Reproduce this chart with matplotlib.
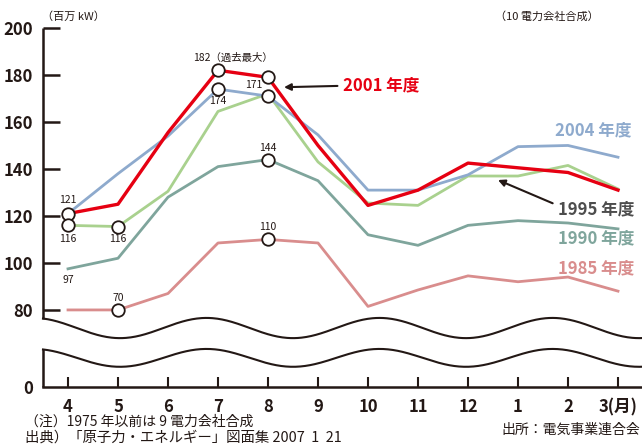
import numpy as np
import matplotlib.pyplot as plt

months = ['4', '5', '6', '7', '8', '9', '10', '11', '12', '1', '2', '3(月)']
y1985 = [80, 80, 87, 108.5, 110, 108.5, 81.5, 88.5, 94.5, 92, 94, 88]
y1990 = [97.5, 102, 128, 141, 144, 135, 112, 107.5, 116, 118, 117, 114.5]
y1995 = [116, 115.5, 130.5, 164.5, 172, 143, 125.5, 124.5, 137, 137, 141.5, 131.5]
y2004 = [121, 138, 154, 174, 171, 154.5, 131, 131, 137.5, 149.5, 150, 145]
y2001 = [121, 125, 155.5, 182, 179, 150, 124.5, 131, 142.5, 140.5, 138.5, 131]

ytick_vals = [80, 100, 120, 140, 160, 180, 200]

INK = '#231815'
JP = ['Noto Sans CJK JP', 'DejaVu Sans']
NUM = ['Liberation Sans Narrow', 'Noto Sans CJK JP', 'DejaVu Sans']

c1985 = '#d98d8d'
c1990 = '#7fa59c'
c1995 = '#a9d18e'
c2004 = '#8eaacd'
c2001 = '#e60012'

# virtual position of the "0" line below the axis break
ZERO = 47.2

fig = plt.figure(figsize=(6.42, 4.45), dpi=100)
ax = fig.add_axes([43 / 642, 1 - 387 / 445, 599 / 642, 359 / 445])
x = np.arange(len(months))

ax.plot(x, y1985, color=c1985, lw=2.0, zorder=3)
ax.plot(x, y1990, color=c1990, lw=2.0, zorder=3)
ax.plot(x, y1995, color=c1995, lw=2.0, zorder=3)
ax.plot(x, y2004, color=c2004, lw=2.0, zorder=4)
ax.plot(x, y2001, color=c2001, lw=2.4, zorder=5)

# open circle markers
marks = [(y2001, 0), (y2001, 3), (y2001, 4), (y2004, 3), (y2004, 4),
         (y1995, 0), (y1995, 1), (y1990, 4), (y1985, 1), (y1985, 4)]
for ser, i in marks:
    ax.plot(x[i], ser[i], 'o', ms=9, mfc='white', mec=INK, mew=1.3, zorder=6)

lab = dict(fontsize=7.5, color=INK, family=JP, ha='center', va='center')
ax.text(0, 126.8, '121', **lab)
ax.text(0, 110.2, '116', **lab)
ax.text(1, 110.2, '116', **lab)
ax.text(0, 92.7, '97', **lab)
ax.text(1, 85.0, '70', **lab)
ax.text(2.5, 187.2, '182（過去最大）', fontsize=7.5, color=INK, family=JP,
        ha='left', va='center')
ax.text(3, 168.8, '174', **lab)
ax.text(3.72, 175.7, '171', **lab)
ax.text(4, 148.9, '144', **lab)
ax.text(4, 115.3, '110', **lab)

# series names
ax.annotate('2001 年度', xy=(4.32, 174.8), xytext=(5.5, 175.4),
            fontsize=12, fontweight='bold', color=c2001, family=JP,
            ha='left', va='center',
            arrowprops=dict(arrowstyle='-|>', color=INK, lw=1.5,
                            mutation_scale=10, shrinkA=2, shrinkB=0,
                            relpos=(0, 0.5)))
ax.annotate('1995 年度', xy=(8.6, 135.3), xytext=(9.8, 122.9),
            fontsize=12, fontweight='bold', color='#4d4d4d', family=JP,
            ha='left', va='center',
            arrowprops=dict(arrowstyle='-|>', color=INK, lw=1.5,
                            mutation_scale=10, shrinkA=2, shrinkB=0,
                            relpos=(0, 0.7)))
ax.text(9.74, 156.6, '2004 年度', fontsize=12, fontweight='bold', color=c2004,
        family=JP, ha='left', va='center')
ax.text(9.8, 110.6, '1990 年度', fontsize=12, fontweight='bold', color=c1990,
        family=JP, ha='left', va='center')
ax.text(9.8, 97.8, '1985 年度', fontsize=12, fontweight='bold', color=c1985,
        family=JP, ha='left', va='center')

# axis break waves
xs = np.linspace(-0.5, 11.5, 500)
phase = np.cos(2 * np.pi * (xs - 1.04) / 3.46)
ax.plot(xs, 72.3 - 4.3 * phase, color=INK, lw=1.5, clip_on=False)
ax.plot(xs, 59.6 - 3.8 * phase, color=INK, lw=1.5, clip_on=False)

# broken y axis line
ax.plot([-0.5, -0.5], [72.3 - 4.3 * np.cos(2 * np.pi * -1.54 / 3.46), 200],
        color=INK, lw=1.8, clip_on=False, solid_capstyle='butt')
ax.plot([-0.5, -0.5], [ZERO, 59.6 - 3.8 * np.cos(2 * np.pi * -1.54 / 3.46)],
        color=INK, lw=1.8, clip_on=False, solid_capstyle='butt')

ax.set_xlim(-0.5, 11.48)
ax.set_ylim(ZERO, 200)
for s in ['top', 'right', 'left']:
    ax.spines[s].set_visible(False)
ax.spines['bottom'].set_color(INK)
ax.spines['bottom'].set_linewidth(1.8)

ax.set_xticks(x)
ax.set_xticklabels(months, fontsize=12, fontweight='bold', family=NUM, color=INK)
ax.tick_params(axis='x', direction='in', length=7, width=1.5, color=INK, pad=8)

ax.set_yticks([ZERO] + ytick_vals)
ax.set_yticklabels(['0'] + [str(v) for v in ytick_vals], fontsize=12,
                   fontweight='bold', family=NUM, color=INK)
ax.tick_params(axis='y', direction='in', length=12, width=1.8, color=INK, pad=7)
ax.yaxis.get_major_ticks()[0].tick1line.set_visible(False)
ax.set_facecolor('none')

fig.text(42 / 642, 1 - 17 / 445, '（百万 kW）', fontsize=8, family=JP, color=INK,
         va='center', ha='left')
fig.text(495 / 642, 1 - 17 / 445, '（10 電力会社合成）', fontsize=8, family=JP,
         color=INK, va='center', ha='left')
fig.text(25 / 642, 1 - 422 / 445, '（注）1975 年以前は 9 電力会社合成', fontsize=10,
         family=JP, color=INK, va='center', ha='left')
fig.text(25 / 642, 1 - 438 / 445, '出典）「原子力・エネルギー」図面集 2007  1  21',
         fontsize=10.4, family=JP, color=INK, va='center', ha='left')
fig.text(640 / 642, 1 - 430 / 445, '出所：電気事業連合会', fontsize=10, family=JP,
         color=INK, va='center', ha='right')

fig.savefig('out.png', dpi=100)
